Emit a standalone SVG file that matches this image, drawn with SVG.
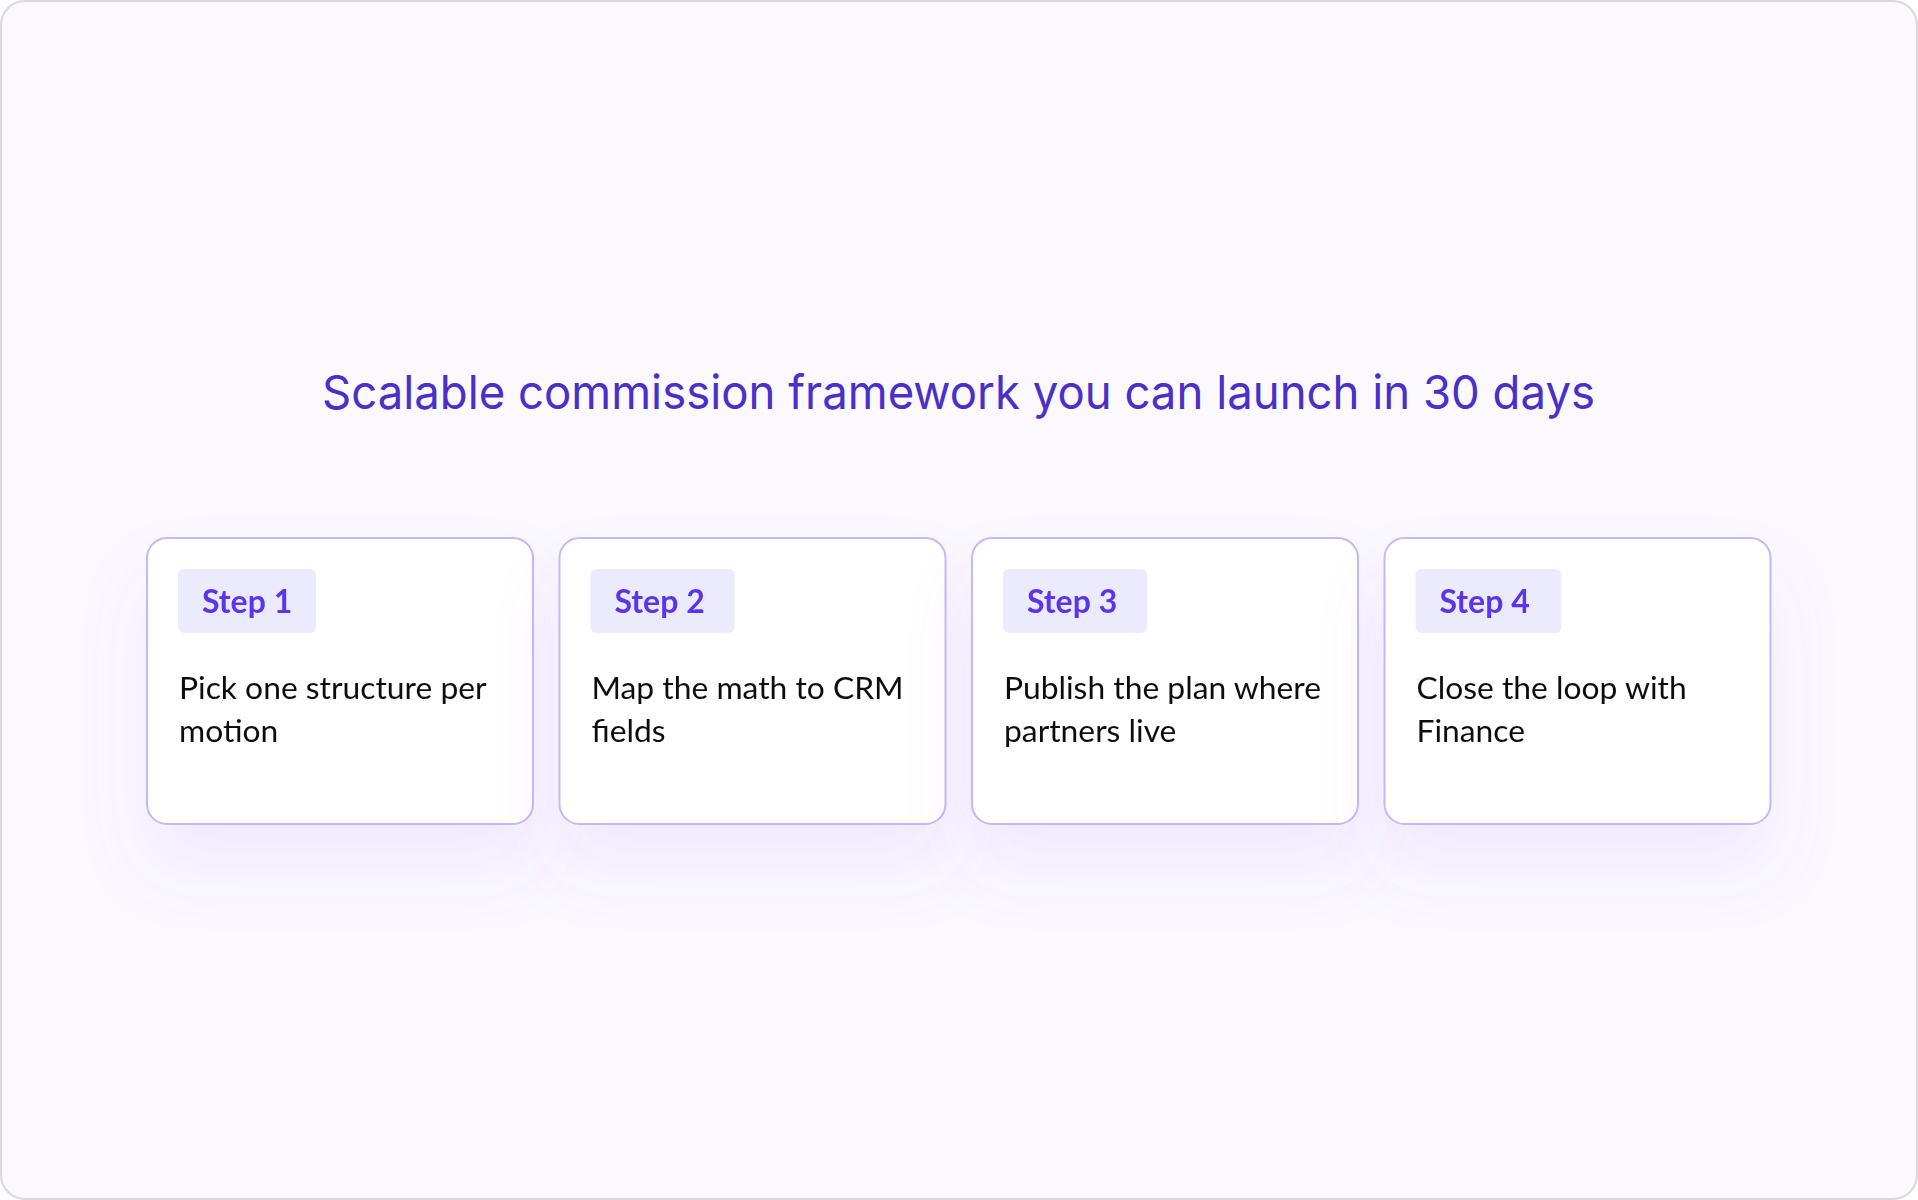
<svg xmlns="http://www.w3.org/2000/svg" width="1918" height="1200" viewBox="0 0 1918 1200">
<defs>
<filter id="sh" x="-30%" y="-30%" width="160%" height="190%">
<feGaussianBlur in="SourceAlpha" stdDeviation="34"/>
<feOffset dy="42" result="b"/>
<feFlood flood-color="#8a5cf0" flood-opacity="0.10"/>
<feComposite in2="b" operator="in"/>
<feMerge><feMergeNode/><feMergeNode in="SourceGraphic"/></feMerge>
</filter>
<style>
.bg{fill:#fbf9fe;stroke:#d9d8de;stroke-width:2}
.card{fill:#ffffff;stroke:#c3b8fb;stroke-width:2}
.badge{fill:#ecebfe}
.bt{font-family:Lato,"Noto Sans",sans-serif;font-weight:700;font-size:32px;fill:#5a35ec}
.tx{font-family:Lato,"Noto Sans",sans-serif;font-size:31.8px;fill:#111111}
.title{font-family:Inter,"Liberation Sans",sans-serif;font-size:47px;fill:#4a2fc9}
</style>
</defs>
<rect class="bg" x="1" y="1" width="1916" height="1198" rx="24"/>
<text class="title" x="322" y="409" textLength="1273" lengthAdjust="spacingAndGlyphs">Scalable commission framework you can launch in 30 days</text>
<g id="connectors"></g>
<g id="step1" filter="url(#sh)">
<rect class="card" x="147" y="538" width="386" height="286" rx="20"/>
<rect class="badge" x="178" y="569" width="138" height="64" rx="6"/>
<text class="bt" x="202" y="613">Step 1</text>
<text class="tx" x="179" y="699">Pick one structure per</text>
<text class="tx" x="179" y="742">motion</text>
</g>
<g id="step2" filter="url(#sh)">
<rect class="card" x="559.5" y="538" width="386" height="286" rx="20"/>
<rect class="badge" x="590.5" y="569" width="144" height="64" rx="6"/>
<text class="bt" x="614.5" y="613">Step 2</text>
<text class="tx" x="591.5" y="699">Map the math to CRM</text>
<text class="tx" x="591.5" y="742">fields</text>
</g>
<g id="step3" filter="url(#sh)">
<rect class="card" x="972" y="538" width="386" height="286" rx="20"/>
<rect class="badge" x="1003" y="569" width="144" height="64" rx="6"/>
<text class="bt" x="1027" y="613">Step 3</text>
<text class="tx" x="1004" y="699">Publish the plan where</text>
<text class="tx" x="1004" y="742">partners live</text>
</g>
<g id="step4" filter="url(#sh)">
<rect class="card" x="1384.5" y="538" width="386" height="286" rx="20"/>
<rect class="badge" x="1415.5" y="569" width="146" height="64" rx="6"/>
<text class="bt" x="1439.5" y="613">Step 4</text>
<text class="tx" x="1416.5" y="699">Close the loop with</text>
<text class="tx" x="1416.5" y="742">Finance</text>
</g>
</svg>
